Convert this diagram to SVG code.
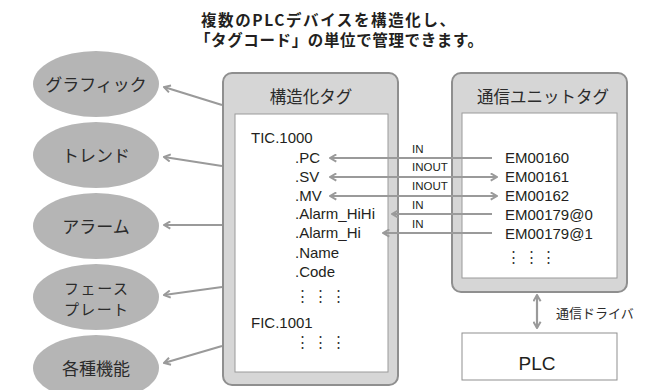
<svg xmlns="http://www.w3.org/2000/svg" width="658" height="390" viewBox="0 0 658 390">
<style>
.jp{font-family:"Noto Sans CJK JP","Noto Sans",sans-serif;fill:#2b2b2b}
.title{font-family:"Noto Sans CJK JP","Noto Sans",sans-serif;font-weight:bold;font-size:15.5px;fill:#231f20}
.el{fill:#b5b5b5}
.lbl{font-size:17px;text-anchor:middle}
.lbl2{font-size:15px;text-anchor:middle}
.frame{fill:#d6d6d6;stroke:#8f8f8f;stroke-width:2}
.inner{fill:#fff;stroke:#9a9a9a;stroke-width:1}
.ptitle{font-size:16.5px;text-anchor:middle}
.tx{font-family:"Liberation Sans",Arial,sans-serif;font-size:15px;fill:#231f20}
.io{font-family:"Liberation Sans",Arial,sans-serif;font-size:11.5px;fill:#231f20}
.dots{font-family:"Noto Sans CJK JP",sans-serif;font-size:15px;fill:#333;text-anchor:middle}
.c{fill:none;stroke:#9a9a9a;stroke-width:2.2}
</style>
<defs>
<marker id="ah" viewBox="0 0 10 10" refX="9" refY="5" markerWidth="9" markerHeight="9" markerUnits="userSpaceOnUse" orient="auto-start-reverse">
<path d="M2,1 L9,5 L2,9" fill="none" stroke="#9a9a9a" stroke-width="2.2"/>
</marker>
</defs>

<g id="title">
<text class="title"><tspan x="201" y="26" textLength="254" lengthAdjust="spacing">複数のPLCデバイスを構造化し、</tspan><tspan x="195" y="46" textLength="288" lengthAdjust="spacing">「タグコード」の単位で管理できます。</tspan></text>
</g>

<g id="graphic"><ellipse class="el" cx="96" cy="84" rx="63" ry="33"/><text class="jp lbl" x="96" y="91">グラフィック</text></g>
<g id="trend"><ellipse class="el" cx="96" cy="155" rx="63" ry="33"/><text class="jp lbl" x="96" y="162">トレンド</text></g>
<g id="alarm"><ellipse class="el" cx="96" cy="226" rx="63" ry="33"/><text class="jp lbl" x="96" y="233">アラーム</text></g>
<g id="faceplate"><ellipse class="el" cx="96" cy="297" rx="63" ry="33"/><text class="jp lbl2"><tspan x="96" y="294" textLength="64" lengthAdjust="spacing">フェース</tspan><tspan x="96" y="315" textLength="64" lengthAdjust="spacing">プレート</tspan></text></g>
<g id="functions"><ellipse class="el" cx="96" cy="368" rx="63" ry="33"/><text class="jp lbl" x="96" y="375">各種機能</text></g>

<g id="struct-tag">
<rect class="frame" x="223" y="73" width="175" height="312" rx="9"/>
<rect class="inner" x="235" y="114" width="153" height="258"/>
<text class="jp ptitle" x="311" y="103">構造化タグ</text>
<text class="tx" x="251" y="143">TIC.1000</text>
<text class="tx" x="295" y="163">.PC</text>
<text class="tx" x="295" y="182">.SV</text>
<text class="tx" x="295" y="201">.MV</text>
<text class="tx" x="295" y="219">.Alarm_HiHi</text>
<text class="tx" x="295" y="238">.Alarm_Hi</text>
<text class="tx" x="295" y="258">.Name</text>
<text class="tx" x="295" y="277">.Code</text>
<text class="dots" x="302 320 338" y="301">⋮⋮⋮</text>
<text class="tx" x="251" y="328">FIC.1001</text>
<text class="dots" x="302 320 338" y="347">⋮⋮⋮</text>
</g>

<g id="unit-tag">
<rect class="frame" x="452" y="73" width="175" height="219" rx="9"/>
<rect class="inner" x="462" y="113" width="155" height="165"/>
<text class="jp ptitle" x="543" y="103">通信ユニットタグ</text>
<text class="tx" x="505" y="163">EM00160</text>
<text class="tx" x="505" y="182">EM00161</text>
<text class="tx" x="505" y="201">EM00162</text>
<text class="tx" x="505" y="220">EM00179@0</text>
<text class="tx" x="505" y="239">EM00179@1</text>
<text class="dots" x="513 531 548" y="262">⋮⋮⋮</text>
</g>

<g id="plc">
<rect x="462" y="333" width="155" height="47" fill="#fff" stroke="#8f8f8f" stroke-width="1"/>
<text class="tx" x="537" y="370" style="font-size:19px" text-anchor="middle">PLC</text>
</g>

<g id="connectors">
<line class="c" x1="222" y1="105" x2="164" y2="87" marker-end="url(#ah)"/>
<line class="c" x1="222" y1="166" x2="164" y2="157" marker-end="url(#ah)"/>
<line class="c" x1="222" y1="225" x2="164" y2="225" marker-end="url(#ah)"/>
<line class="c" x1="222" y1="287" x2="164" y2="295" marker-end="url(#ah)"/>
<line class="c" x1="222" y1="346" x2="164" y2="363" marker-end="url(#ah)"/>

<line class="c" x1="492" y1="158" x2="330" y2="158" marker-end="url(#ah)"/>
<line class="c" x1="330" y1="177" x2="497" y2="177" marker-start="url(#ah)" marker-end="url(#ah)"/>
<line class="c" x1="330" y1="196" x2="497" y2="196" marker-start="url(#ah)" marker-end="url(#ah)"/>
<line class="c" x1="492" y1="214" x2="392" y2="214" marker-end="url(#ah)"/>
<line class="c" x1="492" y1="233" x2="383" y2="233" marker-end="url(#ah)"/>
<text class="io" x="412" y="153">IN</text>
<text class="io" x="412" y="171">INOUT</text>
<text class="io" x="412" y="190">INOUT</text>
<text class="io" x="412" y="209">IN</text>
<text class="io" x="412" y="228">IN</text>

<line class="c" x1="537" y1="295" x2="537" y2="328" stroke="#aaaaaa" stroke-width="2.6" marker-start="url(#ah)" marker-end="url(#ah)"/>
<text class="jp" x="556" y="318" style="font-size:13px">通信ドライバ</text>
</g>
</svg>
